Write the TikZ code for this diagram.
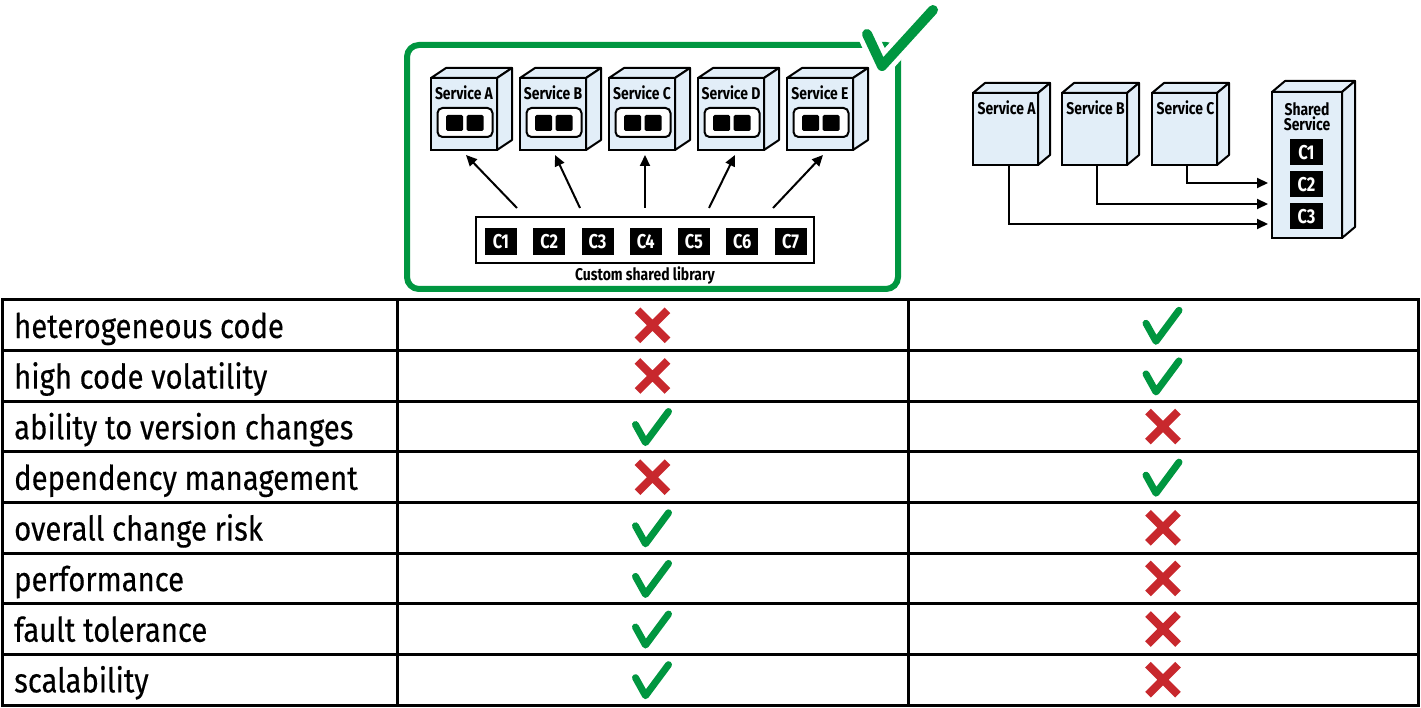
\documentclass[tikz,border=0pt]{standalone}
\usepackage{fontspec}
\setmainfont[FakeStretch=0.82]{Fira Sans}
\newfontfamily\rowfont[FakeStretch=0.86,FakeBold=0.3]{Fira Sans}
\usetikzlibrary{arrows.meta,calc}
\definecolor{okgreen}{RGB}{0,150,64}
\definecolor{nored}{RGB}{200,40,45}
\definecolor{svcblue}{RGB}{226,238,248}
\tikzset{
  svcface/.style={draw, line width=2pt, fill=svcblue, outer sep=0pt, inner sep=0pt},
  svcline/.style={draw, line width=2pt, fill=svcblue, line join=round},
  arr/.style={line width=2pt, -{Triangle[length=11pt,width=10pt]}},
  chip/.style={fill=black, text=white, font=\bfseries\fontsize{20}{20}\selectfont, inner sep=0pt, minimum width=32pt, minimum height=27pt},
  svclabel/.style={font=\bfseries\fontsize{17}{17}\selectfont, inner sep=0pt, anchor=base},
  rowtext/.style={font=\rowfont\fontsize{34}{34}\selectfont, anchor=base west, inner sep=0pt},
  grid/.style={line width=3pt},
  mkok/.pic={\draw[okgreen, line width=7pt, line cap=round, line join=round] (-17,-2) -- (-7,16) -- (16,-15);},
  mkno/.pic={\draw[nored, line width=8pt] (-15,-15) -- (15,15) (-15,15) -- (15,-15);},
}
\newcommand\svcbox[7]{%
  \draw[svcline] (#2,#3) -- ++(#6,-#7) -- ++(#4,0) -- ++(-#6,#7) -- cycle;
  \draw[svcline] (#2+#4,#3) -- ++(#6,-#7) -- ++(0,#5) -- ++(-#6,#7) -- cycle;
  \node[svcface, minimum width=#4pt, minimum height=#5pt, anchor=north west] (#1) at (#2,#3) {};
}
\begin{document}
\begin{tikzpicture}[x=1pt,y=-1pt]
\useasboundingbox (0,0) rectangle (1421,708);
% green frame and check
\draw[okgreen, line width=6pt, rounded corners=12pt] (407,45) rectangle (898,289);
\draw[white, line width=20pt, line cap=round, line join=round] (867,34) -- (882,66) -- (933,10);
\draw[okgreen, line width=10pt, line cap=round, line join=round] (867,34) -- (882,66) -- (933,10);
% left services
\foreach \n/\x in {A/431,B/520,C/609,D/698,E/787}{
  \svcbox{s\n}{\x}{78}{66}{72}{15}{10}
  \node[draw, line width=2pt, rounded corners=5pt, fill=white, minimum width=55pt, minimum height=29pt, inner sep=0pt] (in\n) at ($(s\n.north)+(1,44.5)$) {};
  \node[fill=black, rounded corners=1.5pt, minimum width=17pt, minimum height=16pt, inner sep=0pt] at ($(in\n.center)+(-10.5,0.5)$) {};
  \node[fill=black, rounded corners=1.5pt, minimum width=17pt, minimum height=16pt, inner sep=0pt] at ($(in\n.center)+(10,0.5)$) {};
  \node[svclabel] at ($(s\n.north)+(0,22)$) {Service \n};
}
% library
\node[draw, line width=2pt, minimum width=338pt, minimum height=46pt, inner sep=0pt] (lib) at (645,240) {};
\foreach \i in {1,...,7}{
  \node[chip] (c\i) at ({501+48.25*(\i-1)},241.5) {C\i};
}
\node[svclabel] (libl) at (645,281) {Custom shared library};
\foreach \n/\sx/\dx in {A/517/2,B/580/2,C/645/3,D/709/4,E/773/3}{
  \coordinate (l\n) at (\sx,208);
  \draw[arr] (l\n) -- ($(s\n.south)+(\dx,5)$);
}
% right services
\svcbox{rA}{973}{93}{65}{72}{12}{10}
\svcbox{rB}{1062}{93}{65}{72}{12}{10}
\svcbox{rC}{1152}{93}{65}{72}{12}{10}
\svcbox{sh}{1272}{92}{70}{146}{13}{11}
\foreach \n in {A,B,C}{
  \node[svclabel] at ($(r\n.north)+(1,22)$) {Service \n};
}
\node[svclabel, anchor=north, align=center, font=\bfseries\fontsize{17}{15}\selectfont] (shl) at (1307,102) {Shared\\Service};
\foreach \i/\y in {1/152.5,2/184.5,3/216.5}{
  \node[chip, minimum width=33pt, minimum height=26pt] (k\i) at (1306.5,\y) {C\i};
}
\draw[arr] ($(rA.south)+(3,0)$) |- ($(sh.west)+(-4,59)$);
\draw[arr] ($(rB.south)+(2,0)$) |- ($(sh.west)+(-4,39)$);
\draw[arr] ($(rC.south)+(2,0)$) |- ($(sh.west)+(-4,18)$);
% table
\draw[grid] (2,300) rectangle (1418,705);
\draw[grid] (397,300) -- (397,705) (908,300) -- (908,705);
\foreach \i in {1,...,7}{
  \draw[grid] (2,{300+50.625*\i}) -- (1418,{300+50.625*\i});
}
\foreach \t/\a/\b [count=\i] in {heterogeneous code/no/ok, high code volatility/no/ok, ability to version changes/ok/no, dependency management/no/ok, overall change risk/ok/no, performance/ok/no, fault tolerance/ok/no, scalability/ok/no}{
  \node[rowtext] (row\i) at (14,{300+50.625*(\i-1)+38}) {\t};
  \pic at (652.5,{300+50.625*(\i-0.5)}) {mk\a};
  \pic at (1163,{300+50.625*(\i-0.5)}) {mk\b};
}
\end{tikzpicture}
\end{document}
